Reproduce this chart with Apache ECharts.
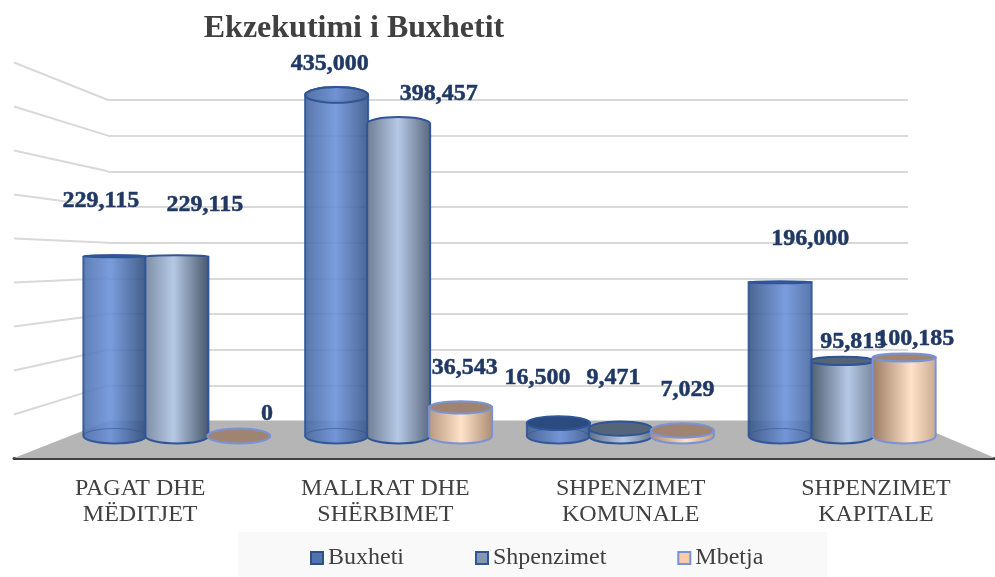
<!DOCTYPE html>
<html>
<head>
<meta charset="utf-8">
<title>Ekzekutimi i Buxhetit</title>
<script src="https://cdn.jsdelivr.net/npm/echarts@6/dist/echarts.min.js"></script>
<style>
  html, body { margin: 0; padding: 0; background: #fff; }
  #main { width: 995px; height: 577px; }
</style>
</head>
<body>
<div id="main"></div>
<script>
var categories = ['PAGAT DHE\nMËDITJET', 'MALLRAT DHE\nSHËRBIMET', 'SHPENZIMET\nKOMUNALE', 'SHPENZIMET\nKAPITALE'];
var buxheti = [229115, 435000, 16500, 196000];
var shpenzimet = [229115, 398457, 9471, 95815];
var mbetja = [0, 36543, 7029, 100185];
var wallTicks = [0, 50000, 100000, 150000, 200000, 250000, 300000, 350000, 400000, 450000];

// label offset from the top of each cylinder, placed by hand like in the original
var labelOffsets = [
  [[-14, -56], [-7, -31], [-21, -45], [30, -44]],
  [[28, -52], [40, -30], [-7, -51], [11, -19]],
  [[28, -22], [4, -40], [5, -41], [11, -19]]
];

var looks = [
  { mid: '#6c92da', dark: '#27436f', cap: '#2b4a7d', line: '#2f5597', opacity: 0.9 },
  { mid: '#b6c9e4', dark: '#38465a', cap: '#54657a', line: '#2f5597', opacity: 1 },
  { mid: '#ffe2c8', dark: '#8a6a52', cap: '#a08472', line: '#7a93d6', opacity: 1 }
];

var MAX = 450000;
var HALF_W = 31.5;     // cylinder radius
var STEP = 62;         // distance between cylinders in a group
var EYE_Y = 270;       // height of the eye line, caps get flatter near it
var FLAT = 0.045;

function cylinder(seriesIdx, values) {
  return function (params, api) {
    var cat = api.value(0);
    var look = looks[seriesIdx];
    var base = api.coord([cat, 0]);
    var top = api.coord([cat, api.value(1)]);
    var cx = base[0] + (seriesIdx - 1) * STEP;
    var rx = HALF_W;
    var baseRy = Math.abs(base[1] - EYE_Y) * FLAT;
    var topRy = Math.max(Math.abs(top[1] - EYE_Y) * FLAT, 1);
    var above = top[1] < EYE_Y;
    // light moves across the chart, left ones are dark on the right and the other way round
    var t = (cx - 66) / 887;
    var hi = 0.42 + 0.2 * t;
    var leftC = echarts.color.lerp(0.4 + 0.5 * t, [look.mid, look.dark]);
    var rightC = echarts.color.lerp(0.95 - 0.5 * t, [look.mid, look.dark]);
    var z2 = (cat === 3 && seriesIdx === 0) ? 10 : seriesIdx;
    var topArc = above ? 'A' + rx + ' ' + topRy + ' 0 0 1 ' + (cx + rx) + ' ' + top[1]
                       : 'L' + (cx + rx) + ' ' + top[1];
    var body = 'M' + (cx - rx) + ' ' + top[1] + topArc +
      'L' + (cx + rx) + ' ' + base[1] +
      'A' + rx + ' ' + baseRy + ' 0 0 1 ' + (cx - rx) + ' ' + base[1] + 'Z';
    var children = [];
    var hasHeight = base[1] - top[1] > 0.5;
    if (hasHeight) {
      children.push({
        type: 'path',
        z2: z2,
        shape: { pathData: body },
        style: {
          fill: new echarts.graphic.LinearGradient(0, 0, 1, 0, [
            { offset: 0, color: leftC },
            { offset: hi, color: look.mid },
            { offset: 1, color: rightC }
          ]),
          stroke: look.line,
          lineWidth: 2,
          opacity: look.opacity
        }
      });
    }
    if (seriesIdx === 0) {
      // front one is see through, its floor ring shows
      children.push({
        type: 'ellipse',
        z2: z2,
        shape: { cx: cx, cy: base[1], rx: rx, ry: baseRy },
        style: { fill: 'none', stroke: 'rgba(47,85,151,0.6)', lineWidth: 1 }
      });
    }
    if (!above || seriesIdx === 0) {
      children.push({
        type: 'ellipse',
        z2: z2,
        shape: { cx: cx, cy: top[1], rx: rx, ry: topRy },
        style: {
          fill: above ? 'rgba(60,90,150,0.15)' : look.cap,
          stroke: look.line,
          lineWidth: 2
        }
      });
    }
    var off = labelOffsets[seriesIdx][cat];
    children.push({
      type: 'text',
      z2: 100,
      style: {
        x: cx + off[0],
        y: top[1] + off[1],
        text: values[cat].toLocaleString('en-US'),
        fill: '#1f3864',
        stroke: '#1f3864',
        lineWidth: 0.5,
        fontFamily: 'Liberation Serif',
        fontWeight: 'bold',
        fontSize: 24,
        align: 'center',
        verticalAlign: 'middle'
      }
    });
    return { type: 'group', children: children };
  };
}

function cylinderSeries(name, seriesIdx, values) {
  return {
    name: name,
    type: 'custom',
    xAxisIndex: 1,
    yAxisIndex: 1,
    z: 3,
    silent: true,
    renderItem: cylinder(seriesIdx, values),
    encode: { x: 0, y: 1 },
    data: values.map(function (v, i) { return [i, v]; })
  };
}

// side wall lines and the floor hang off the back wall grid
function renderWall(params, api) {
  var v = api.value(0);
  var back = api.coord([0, v]);
  if (v === 0) {
    var right = api.coord([1, 0]);
    return {
      type: 'polygon',
      shape: { points: [back, right, [995, 458], [14, 458]] },
      style: { fill: '#b5b5b5' }
    };
  }
  return {
    type: 'line',
    shape: { x1: 14, y1: 458.5 - v / MAX * 396, x2: back[0], y2: back[1] },
    style: { stroke: '#d9d9d9', lineWidth: 2 }
  };
}

var chart = echarts.init(document.getElementById('main'), null, { renderer: 'canvas' });
chart.setOption({
  animation: false,
  backgroundColor: '#fff',
  title: {
    text: 'Ekzekutimi i Buxhetit',
    left: 349,
    top: 8,
    textAlign: 'center',
    textStyle: { fontFamily: 'Liberation Serif', fontWeight: 'bold', fontSize: 32, color: '#404040' }
  },
  legend: {
    left: 238,
    top: 532,
    padding: [14, 64, 8, 72],
    backgroundColor: '#f9f9f9',
    selectedMode: false,
    itemGap: 71,
    itemWidth: 12,
    itemHeight: 12,
    itemStyle: { borderWidth: 2 },
    textStyle: { fontFamily: 'Liberation Serif', fontSize: 24, color: '#404040' },
    data: [
      { name: 'Buxheti', icon: 'rect', itemStyle: { color: '#4f74ae', borderColor: '#2f4f86', borderWidth: 2 } },
      { name: 'Shpenzimet', icon: 'rect', itemStyle: { color: '#8497b0', borderColor: '#2f5597', borderWidth: 2 } },
      { name: 'Mbetja', icon: 'rect', itemStyle: { color: '#f8cbad', borderColor: '#7a93d6', borderWidth: 2 } }
    ]
  },
  grid: [
    { left: 108, width: 800, top: 100, height: 321 },  // back wall
    { left: 66, width: 887, top: 83.2, height: 352.8 }, // cylinders
    { left: 14, width: 981, top: 400, height: 58 }      // front edge and names
  ],
  xAxis: [
    { gridIndex: 0, type: 'value', min: 0, max: 1, show: false },
    { gridIndex: 1, type: 'category', data: categories, show: false },
    {
      gridIndex: 2,
      type: 'category',
      data: categories,
      axisTick: { show: false },
      axisLine: { lineStyle: { color: '#404040', width: 3 } },
      axisLabel: {
        interval: 0,
        margin: 18,
        padding: [0, 0, 0, 7],
        fontFamily: 'Liberation Serif',
        fontSize: 24,
        lineHeight: 26,
        color: '#404040'
      }
    }
  ],
  yAxis: [
    {
      gridIndex: 0,
      type: 'value',
      min: 0,
      max: MAX,
      interval: 50000,
      axisLine: { show: false },
      axisTick: { show: false },
      axisLabel: { show: false },
      splitLine: { lineStyle: { color: '#d9d9d9', width: 2 } }
    },
    { gridIndex: 1, type: 'value', min: 0, max: MAX, show: false, splitLine: { show: false } },
    { gridIndex: 2, type: 'value', show: false, splitLine: { show: false } }
  ],
  series: [
    {
      name: 'wall',
      type: 'custom',
      xAxisIndex: 0,
      yAxisIndex: 0,
      z: 1,
      silent: true,
      renderItem: renderWall,
      encode: { y: 0 },
      data: wallTicks.map(function (v) { return [v]; })
    },
    cylinderSeries('Buxheti', 0, buxheti),
    cylinderSeries('Shpenzimet', 1, shpenzimet),
    cylinderSeries('Mbetja', 2, mbetja)
  ]
});
</script>
</body>
</html>
